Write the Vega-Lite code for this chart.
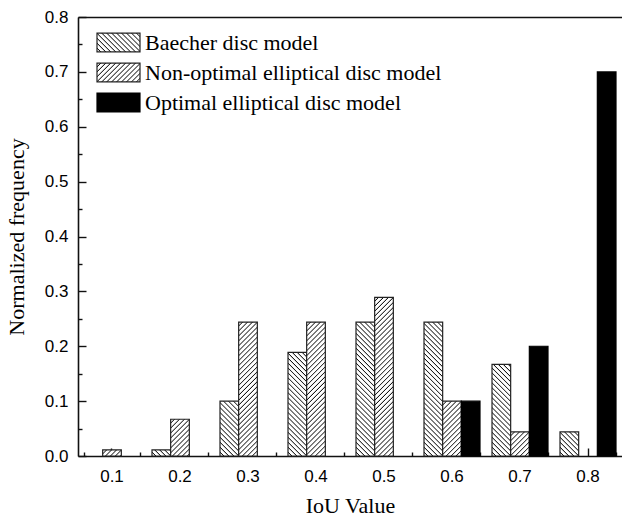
{
  "$schema": "https://vega.github.io/schema/vega-lite/v6.json",
  "width": 544,
  "height": 439,
  "autosize": {"type": "none"},
  "padding": {"left": 78, "top": 17, "right": 0, "bottom": 63},
  "background": "white",
  "params": [
    {"name": "hatch", "value": [
      {"offset":0,"color":"#fff"},{"offset":0.014,"color":"#fff"},{"offset":0.02,"color":"#111"},
      {"offset":0.025,"color":"#fff"},{"offset":0.039,"color":"#fff"},{"offset":0.045,"color":"#111"},
      {"offset":0.05,"color":"#fff"},{"offset":0.064,"color":"#fff"},{"offset":0.07,"color":"#111"},
      {"offset":0.075,"color":"#fff"},{"offset":0.089,"color":"#fff"},{"offset":0.095,"color":"#111"},
      {"offset":0.1,"color":"#fff"},{"offset":0.114,"color":"#fff"},{"offset":0.12,"color":"#111"},
      {"offset":0.125,"color":"#fff"},{"offset":0.139,"color":"#fff"},{"offset":0.145,"color":"#111"},
      {"offset":0.15,"color":"#fff"},{"offset":0.164,"color":"#fff"},{"offset":0.17,"color":"#111"},
      {"offset":0.175,"color":"#fff"},{"offset":0.189,"color":"#fff"},{"offset":0.195,"color":"#111"},
      {"offset":0.2,"color":"#fff"},{"offset":0.214,"color":"#fff"},{"offset":0.22,"color":"#111"},
      {"offset":0.225,"color":"#fff"},{"offset":0.239,"color":"#fff"},{"offset":0.245,"color":"#111"},
      {"offset":0.25,"color":"#fff"},{"offset":0.264,"color":"#fff"},{"offset":0.27,"color":"#111"},
      {"offset":0.275,"color":"#fff"},{"offset":0.289,"color":"#fff"},{"offset":0.295,"color":"#111"},
      {"offset":0.3,"color":"#fff"},{"offset":0.314,"color":"#fff"},{"offset":0.32,"color":"#111"},
      {"offset":0.325,"color":"#fff"},{"offset":0.339,"color":"#fff"},{"offset":0.345,"color":"#111"},
      {"offset":0.35,"color":"#fff"},{"offset":0.364,"color":"#fff"},{"offset":0.37,"color":"#111"},
      {"offset":0.375,"color":"#fff"},{"offset":0.389,"color":"#fff"},{"offset":0.395,"color":"#111"},
      {"offset":0.4,"color":"#fff"},{"offset":0.414,"color":"#fff"},{"offset":0.42,"color":"#111"},
      {"offset":0.425,"color":"#fff"},{"offset":0.439,"color":"#fff"},{"offset":0.445,"color":"#111"},
      {"offset":0.45,"color":"#fff"},{"offset":0.464,"color":"#fff"},{"offset":0.47,"color":"#111"},
      {"offset":0.475,"color":"#fff"},{"offset":0.489,"color":"#fff"},{"offset":0.495,"color":"#111"},
      {"offset":0.5,"color":"#fff"},{"offset":0.514,"color":"#fff"},{"offset":0.52,"color":"#111"},
      {"offset":0.525,"color":"#fff"},{"offset":0.539,"color":"#fff"},{"offset":0.545,"color":"#111"},
      {"offset":0.55,"color":"#fff"},{"offset":0.564,"color":"#fff"},{"offset":0.57,"color":"#111"},
      {"offset":0.575,"color":"#fff"},{"offset":0.589,"color":"#fff"},{"offset":0.595,"color":"#111"},
      {"offset":0.6,"color":"#fff"},{"offset":0.614,"color":"#fff"},{"offset":0.62,"color":"#111"},
      {"offset":0.625,"color":"#fff"},{"offset":0.639,"color":"#fff"},{"offset":0.645,"color":"#111"},
      {"offset":0.65,"color":"#fff"},{"offset":0.664,"color":"#fff"},{"offset":0.67,"color":"#111"},
      {"offset":0.675,"color":"#fff"},{"offset":0.689,"color":"#fff"},{"offset":0.695,"color":"#111"},
      {"offset":0.7,"color":"#fff"},{"offset":0.714,"color":"#fff"},{"offset":0.72,"color":"#111"},
      {"offset":0.725,"color":"#fff"},{"offset":0.739,"color":"#fff"},{"offset":0.745,"color":"#111"},
      {"offset":0.75,"color":"#fff"},{"offset":0.764,"color":"#fff"},{"offset":0.77,"color":"#111"},
      {"offset":0.775,"color":"#fff"},{"offset":0.789,"color":"#fff"},{"offset":0.795,"color":"#111"},
      {"offset":0.8,"color":"#fff"},{"offset":0.814,"color":"#fff"},{"offset":0.82,"color":"#111"},
      {"offset":0.825,"color":"#fff"},{"offset":0.839,"color":"#fff"},{"offset":0.845,"color":"#111"},
      {"offset":0.85,"color":"#fff"},{"offset":0.864,"color":"#fff"},{"offset":0.87,"color":"#111"},
      {"offset":0.875,"color":"#fff"},{"offset":0.889,"color":"#fff"},{"offset":0.895,"color":"#111"},
      {"offset":0.9,"color":"#fff"},{"offset":0.914,"color":"#fff"},{"offset":0.92,"color":"#111"},
      {"offset":0.925,"color":"#fff"},{"offset":0.939,"color":"#fff"},{"offset":0.945,"color":"#111"},
      {"offset":0.95,"color":"#fff"},{"offset":0.964,"color":"#fff"},{"offset":0.97,"color":"#111"},
      {"offset":0.975,"color":"#fff"},{"offset":0.989,"color":"#fff"},{"offset":0.995,"color":"#111"},
      {"offset":1,"color":"#fff"}
    ]}
  ],
  "data": {"values": [
    {"iou":"0.1","model":"Non-optimal elliptical disc model","v":0.011},
    {"iou":"0.2","model":"Baecher disc model","v":0.011},
    {"iou":"0.2","model":"Non-optimal elliptical disc model","v":0.067},
    {"iou":"0.3","model":"Baecher disc model","v":0.1},
    {"iou":"0.3","model":"Non-optimal elliptical disc model","v":0.244},
    {"iou":"0.4","model":"Baecher disc model","v":0.189},
    {"iou":"0.4","model":"Non-optimal elliptical disc model","v":0.244},
    {"iou":"0.5","model":"Baecher disc model","v":0.244},
    {"iou":"0.5","model":"Non-optimal elliptical disc model","v":0.289},
    {"iou":"0.6","model":"Baecher disc model","v":0.244},
    {"iou":"0.6","model":"Non-optimal elliptical disc model","v":0.1},
    {"iou":"0.6","model":"Optimal elliptical disc model","v":0.1},
    {"iou":"0.7","model":"Baecher disc model","v":0.167},
    {"iou":"0.7","model":"Non-optimal elliptical disc model","v":0.044},
    {"iou":"0.7","model":"Optimal elliptical disc model","v":0.2},
    {"iou":"0.8","model":"Baecher disc model","v":0.044},
    {"iou":"0.8","model":"Optimal elliptical disc model","v":0.7}
  ]},
  "resolve": {"axis": {"x": "independent", "y": "independent"}},
  "layer": [
    {
      "mark": {
        "type": "bar",
        "strokeWidth": 1.2,
        "fill": {"expr": "(datum.model || datum.value) === 'Optimal elliptical disc model' ? '#000' : !isValid(datum.v) ? (datum.value === 'Baecher disc model' ? {gradient: 'linear', x1: 0, y1: 1, x2: 3.852, y2: -0.702, stops: hatch} : {gradient: 'linear', x1: 0, y1: 0, x2: 3.852, y2: 1.702, stops: hatch}) : datum.model === 'Baecher disc model' ? {gradient: 'linear', x1: 0, y1: 1, x2: 3696/(348.6 + pow(scale('y',0) - scale('y',datum.v), 2)), y2: 1 - 198*(scale('y',0) - scale('y',datum.v))/(348.6 + pow(scale('y',0) - scale('y',datum.v), 2)), stops: hatch} : {gradient: 'linear', x1: 0, y1: 0, x2: 3696/(348.6 + pow(scale('y',0) - scale('y',datum.v), 2)), y2: 198*(scale('y',0) - scale('y',datum.v))/(348.6 + pow(scale('y',0) - scale('y',datum.v), 2)), stops: hatch}"}
      },
      "encoding": {
        "x": {
          "field": "iou", "type": "ordinal",
          "scale": {"domain": ["0.1","0.2","0.3","0.4","0.5","0.6","0.7","0.8"], "paddingInner": 0.1765, "paddingOuter": 0.0882},
          "axis": {"orient": "bottom", "title": "IoU Value", "labelAngle": 0, "tickSize": -8, "labelPadding": 20, "titlePadding": 11, "domain": true}
        },
        "xOffset": {
          "field": "model", "type": "nominal",
          "scale": {"domain": ["Baecher disc model","Non-optimal elliptical disc model","Optimal elliptical disc model"], "paddingInner": 0, "paddingOuter": 0}
        },
        "y": {
          "field": "v", "type": "quantitative",
          "scale": {"domain": [0, 0.8], "nice": false},
          "axis": {"orient": "left", "title": "Normalized frequency", "values": [0,0.1,0.2,0.3,0.4,0.5,0.6,0.7,0.8], "format": ".1f", "tickSize": -8, "labelPadding": 18, "titlePadding": 16, "grid": false}
        },
        "stroke": {
          "field": "model", "type": "nominal",
          "scale": {"domain": ["Baecher disc model","Non-optimal elliptical disc model","Optimal elliptical disc model"], "range": ["#222","#222","#000"]},
          "legend": {
            "orient": "none", "legendX": 18, "legendY": 14.5, "title": null, "padding": 0,
            "symbolType": "M-1,-0.44H1V0.44H-1Z", "symbolSize": 1849, "symbolStrokeWidth": 1.2,
            "symbolOpacity": 1, "clipHeight": 22, "rowPadding": 8,
            "labelFont": "Liberation Serif", "labelFontSize": 22, "labelColor": "#000", "labelOffset": 4, "labelLimit": 0
          }
        }
      }
    },
    {
      "mark": {"type": "bar", "opacity": 0},
      "encoding": {
        "x": {
          "field": "iou", "type": "ordinal",
          "axis": {"orient": "bottom", "title": null, "labels": false, "domain": false, "tickBand": "extent", "tickSize": -4}
        },
        "y": {
          "field": "v", "type": "quantitative",
          "axis": {"orient": "left", "title": null, "labels": false, "domain": false, "grid": false, "values": [0.05,0.15,0.25,0.35,0.45,0.55,0.65,0.75], "tickSize": -4}
        }
      }
    },
    {
      "mark": {"type": "rule", "opacity": 0},
      "encoding": {
        "x": {
          "field": "iou", "type": "ordinal",
          "axis": {"orient": "top", "title": null, "labels": false, "ticks": false, "domain": true}
        }
      }
    }
  ],
  "config": {
    "view": {"stroke": null},
    "axis": {
      "labelFont": "Liberation Sans", "labelFontSize": 17, "labelColor": "#000",
      "titleFont": "Liberation Serif", "titleFontSize": 22, "titleFontWeight": "normal", "titleColor": "#000",
      "domainColor": "#111", "domainWidth": 1.6, "tickColor": "#111", "tickWidth": 1.4, "grid": false
    }
  }
}
